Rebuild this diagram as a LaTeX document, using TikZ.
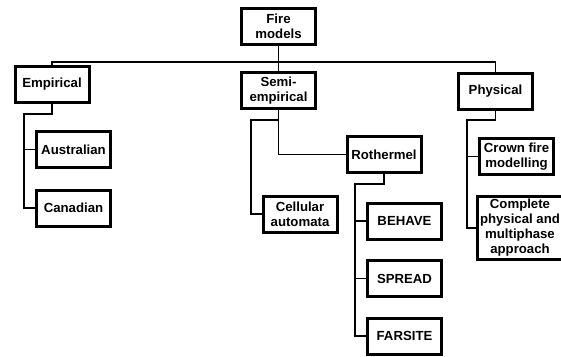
\documentclass[tikz,border=0pt]{standalone}
\usepackage{fontspec}
\setmainfont{Liberation Sans}
\usepackage{tikz}

\begin{document}
\begin{tikzpicture}[x=1pt, y=-1pt,
		modelbox/.style={draw, line width=3pt, minimum width=74pt, minimum height=36pt, inner sep=3pt, outer sep=0pt, align=center, font=\fontsize{13.2}{15}\selectfont\bfseries},
		link/.style={line width=1.6pt}]
			%%%%% START %%%%%
			
			\useasboundingbox (0, 0) rectangle (561, 356);
			
			\node[modelbox] (fire) at (278.5, 26.5) {Fire\\models};
			
			\node[modelbox] (empirical) at (52, 84) {Empirical};
			\node[modelbox] (semi) at (278.5, 90.5) {Semi-\\empirical};
			\node[modelbox] (physical) at (495.5, 91) {Physical};
			
			\node[modelbox] (australian) at (73.5, 149.5) {Australian};
			\node[modelbox] (canadian) at (73.5, 208) {Canadian};
			
			\node[modelbox] (rothermel) at (384, 154.5) {Rothermel};
			\node[modelbox] (cellular) at (300, 214) {Cellular\\automata};
			
			\node[modelbox] (behave) at (404.5, 221) {BEHAVE};
			\node[modelbox] (spread) at (404.5, 278.5) {SPREAD};
			\node[modelbox] (farsite) at (404.5, 336) {FARSITE};
			
			\node[modelbox] (crown) at (516.5, 156.5) {Crown fire\\modelling};
			\node[modelbox, anchor=west] (complete) at (477, 228) {Complete\\physical and\\multiphase\\approach};
			
			% joints
			\coordinate (bus) at (278.5, 62);
			\coordinate (empjoin) at (24, 114);
			\coordinate (semijoin) at (251, 120);
			\coordinate (rothjoin) at (355, 184);
			\coordinate (physjoin) at (467, 120);
			
			\draw[link] (empirical.north) |- (bus) -| (physical.north);
			\draw[link] (fire.south) -- (semi.north);
			
			\draw[link] (empirical.south) |- (empjoin) |- (canadian.west);
			\draw[link] (australian.west) -- (australian.west -| empjoin);
			
			\draw[link] (semi.south) |- (rothermel.west);
			\draw[link] (semi.south |- semijoin) -- (semijoin) |- (cellular.west);
			
			\draw[link] (rothermel.south) |- (rothjoin) |- (farsite.west);
			\draw[link] (behave.west) -- (behave.west -| rothjoin);
			\draw[link] (spread.west) -- (spread.west -| rothjoin);
			
			\draw[link] (physical.south) |- (physjoin) |- (complete.west);
			\draw[link] (crown.west) -- (crown.west -| physjoin);
			
			%%%%% END %%%%%
\end{tikzpicture}
\end{document}
